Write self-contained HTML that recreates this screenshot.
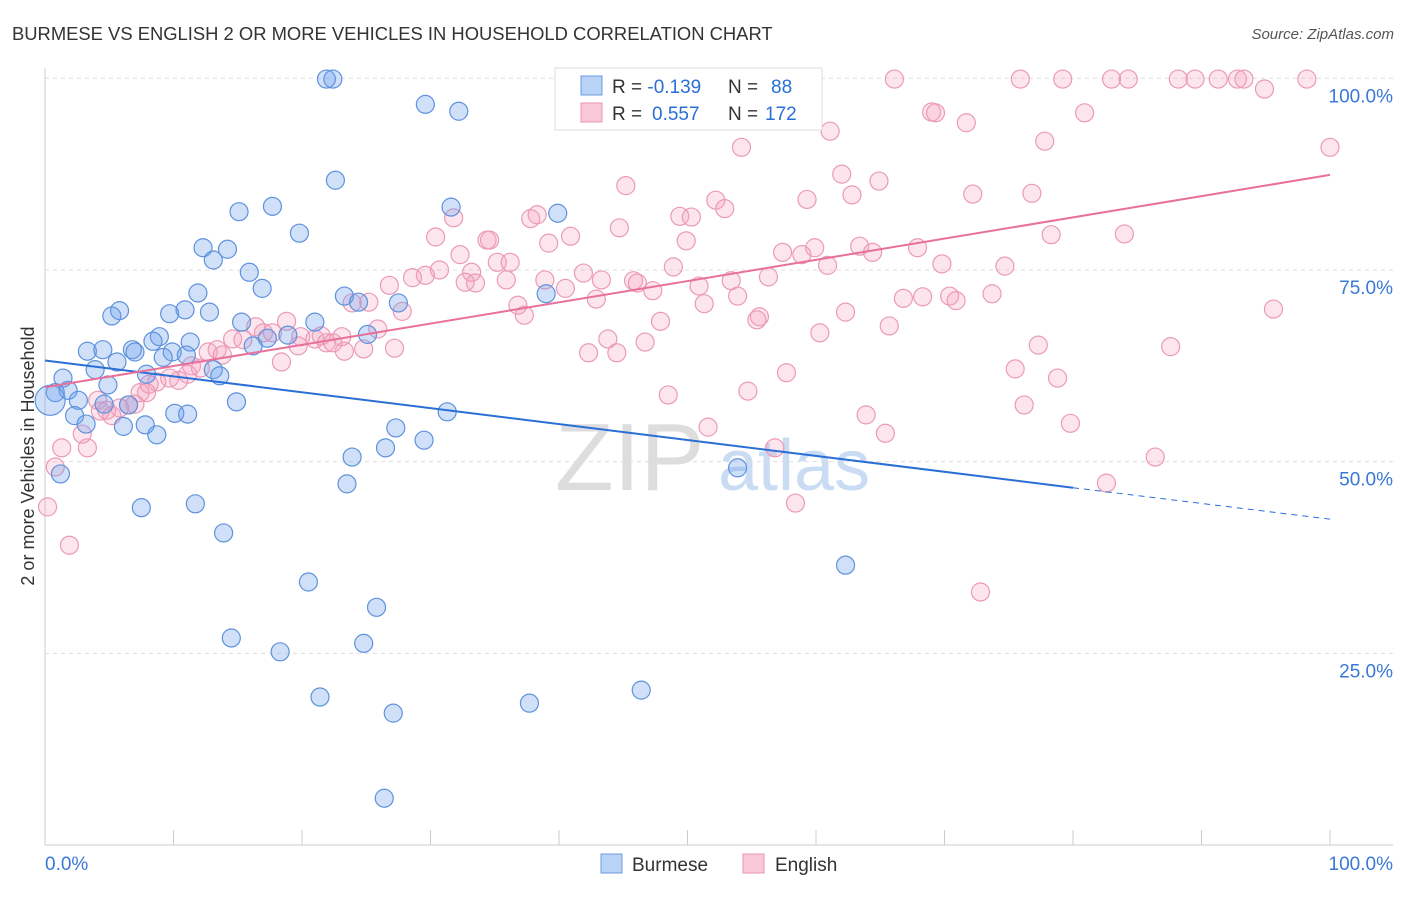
<!DOCTYPE html>
<html><head><meta charset="utf-8"><style>
body{margin:0;background:#fff;font-family:"Liberation Sans",sans-serif}
svg text{font-family:"Liberation Sans",sans-serif}
</style></head><body>
<svg width="1406" height="892" viewBox="0 0 1406 892">
<text x="12" y="40" font-size="18.4" fill="#333">BURMESE VS ENGLISH 2 OR MORE VEHICLES IN HOUSEHOLD CORRELATION CHART</text>
<text x="1394" y="39" font-size="15" fill="#555" text-anchor="end" font-style="italic">Source: ZipAtlas.com</text>
<text x="34" y="456" font-size="18" fill="#333" text-anchor="middle" transform="rotate(-90 34 456)">2 or more Vehicles in Household</text>
<g><text x="555" y="490" font-size="96" fill="#ddd" font-family="Liberation Serif">ZIP</text><text x="718" y="490" font-size="72" fill="#c9dcf3">atlas</text></g>
<g id="grid"></g><g id="axes"></g><g id="pts"></g><g id="trend"></g>
<g>
<rect x="555" y="68" width="267" height="62" fill="#fff" stroke="#ddd"/>
<rect x="581" y="76" width="21" height="19" fill="#b8d3f5" stroke="#6a9be0"/>
<rect x="581" y="103" width="21" height="19" fill="#f9c8d8" stroke="#e994b4"/>
<text x="612" y="93" font-size="19" fill="#333">R = <tspan fill="#2a6fd6">-0.139</tspan><tspan x="728">N = </tspan><tspan fill="#2a6fd6" x="771">88</tspan></text>
<text x="612" y="120" font-size="19" fill="#333">R = <tspan fill="#2a6fd6" x="652">0.557</tspan><tspan x="728">N = </tspan><tspan fill="#2a6fd6" x="765">172</tspan></text>
</g>
<g>
<rect x="601" y="854" width="21" height="19" fill="#b8d3f5" stroke="#6a9be0"/>
<text x="632" y="871" font-size="19" fill="#333">Burmese</text>
<rect x="743" y="854" width="21" height="19" fill="#f9c8d8" stroke="#e994b4"/>
<text x="775" y="871" font-size="19" fill="#333">English</text>
</g>
</svg>
<script>
const yTicks=[25,50,75,100];
const yTickLabels=["25.0%","50.0%","75.0%","100.0%"];
const xTickLabels=["0.0%","100.0%"];
const blueX=[21.9,22.4,29.6,32.2,22.6,15.1,17.7,31.6,39.9,19.8,12.3,14.2,13.1,15.9,16.9,11.9,23.3,39.0,24.4,27.5,10.9,5.8,5.2,12.8,9.7,15.3,21.0,25.1,17.3,18.9,8.9,8.4,11.3,16.2,3.3,4.5,6.8,7.0,9.9,11.0,9.2,5.6,3.9,13.1,7.9,13.6,1.4,4.9,1.8,0.8,2.6,4.6,6.5,14.9,2.3,10.1,11.1,31.3,3.2,6.1,7.8,27.3,8.7,29.5,26.5,23.9,53.9,1.2,23.5,11.7,7.5,13.9,62.3,20.5,25.8,14.5,24.8,18.3,46.4,21.4,37.7,27.1,26.4,0.4];
const blueY=[99.9,99.9,96.6,95.7,86.7,82.6,83.3,83.2,82.4,79.8,77.9,77.7,76.3,74.7,72.6,72.0,71.6,71.9,70.8,70.7,69.8,69.7,69.0,69.5,69.3,68.2,68.2,66.6,66.1,66.5,66.3,65.7,65.6,65.1,64.4,64.6,64.6,64.3,64.3,63.9,63.6,63.0,62.0,62.0,61.4,61.2,60.9,60.0,59.3,59.0,58.0,57.5,57.4,57.8,56.0,56.3,56.2,56.5,54.9,54.6,54.8,54.4,53.5,52.8,51.8,50.6,49.2,48.4,47.1,44.5,44.0,40.7,36.5,34.3,31.0,27.0,26.3,25.2,20.2,19.3,18.5,17.2,6.1,58.0];
const pinkX=[66.1,75.9,79.2,83.0,84.3,88.2,89.5,91.3,92.8,93.3,98.2,94.9,69.0,69.3,80.9,71.7,61.1,77.8,54.2,100,45.2,62.0,64.9,62.8,72.2,76.8,52.2,59.3,52.9,31.8,37.8,38.3,49.4,50.3,44.7,30.4,40.9,34.4,34.6,39.2,49.9,78.3,84.0,32.3,57.4,59.9,58.9,63.4,64.4,67.9,35.2,36.2,60.9,69.8,74.7,48.9,30.7,29.6,28.6,33.2,41.9,26.8,33.5,32.7,35.9,38.9,43.3,45.8,46.1,53.4,56.3,40.5,47.3,50.9,73.7,53.9,66.8,68.3,70.4,70.9,42.9,23.9,25.2,36.8,51.3,95.6,27.8,37.3,55.6,55.4,62.3,18.8,16.4,47.9,65.7,14.6,15.4,17.0,17.7,19.9,21.0,21.5,23.1,25.9,21.9,22.4,19.7,60.3,43.8,46.7,77.3,87.6,23.3,24.8,27.2,12.7,13.4,13.8,42.3,44.5,18.4,11.4,12.1,11.1,9.7,10.4,8.7,8.1,75.5,78.8,57.7,7.9,7.4,4.1,7.0,6.5,5.8,4.8,5.2,4.3,48.5,54.7,76.2,63.9,79.8,51.6,65.4,2.9,3.3,1.3,56.8,86.4,0.8,82.6,58.4,0.2,1.9,72.8];
const pinkY=[99.9,99.9,99.9,99.9,99.9,99.9,99.9,99.9,99.9,99.9,99.9,98.6,95.6,95.5,95.5,94.2,93.1,91.8,91.0,91.0,86.0,87.5,86.6,84.8,84.9,85.0,84.1,84.2,83.0,81.8,81.7,82.2,82.0,81.9,80.5,79.3,79.4,78.9,78.9,78.5,78.8,79.6,79.7,77.0,77.3,77.9,77.0,78.1,77.3,77.9,76.0,76.0,75.6,75.8,75.5,75.4,75.0,74.3,74.0,74.7,74.6,73.0,73.3,73.4,73.7,73.7,73.7,73.6,73.3,73.6,74.1,72.6,72.3,72.9,71.9,71.6,71.3,71.5,71.6,71.0,71.2,70.7,70.8,70.4,70.6,69.9,69.6,69.1,68.9,68.5,69.5,68.3,67.6,68.3,67.7,66.0,65.9,66.8,66.8,66.3,66.0,66.4,66.3,67.3,65.5,65.5,65.1,66.8,66.0,65.6,65.2,65.0,64.4,64.7,64.8,64.3,64.6,63.9,64.2,64.2,63.0,62.5,62.2,61.4,60.9,60.6,60.4,60.1,62.1,60.9,61.6,59.0,59.0,58.0,57.5,57.4,57.0,56.7,56.0,56.6,58.7,59.2,57.4,56.1,55.0,54.5,53.7,53.6,51.8,51.8,51.8,50.6,49.3,47.2,44.6,44.1,39.1,33.0];
const blueTrend=[63.2,46.6,42.5]; // values at x=0, 80, 100
const pinkTrend=[59.7,87.4];      // values at x=0, 100
const X=v=>45+v*12.85, Y=v=>845-v*7.667;
const NS="http://www.w3.org/2000/svg";
function mk(tag,attrs,parent){const e=document.createElementNS(NS,tag);for(const k in attrs)e.setAttribute(k,attrs[k]);parent.appendChild(e);return e;}
const grid=document.getElementById('grid'),axes=document.getElementById('axes'),pts=document.getElementById('pts'),tr=document.getElementById('trend');
yTicks.forEach((t,i)=>{
 const l=mk('line',{x1:45,x2:1393,y1:Y(t),y2:Y(t),stroke:'#ddd','stroke-dasharray':'4,4'},grid);
 
 
 const tx=mk('text',{x:1393,y:Y(t)+24,'font-size':19,fill:'#3a78d8','text-anchor':'end'},grid);
 tx.textContent=yTickLabels[i];
 
 
});
const ax=mk('line',{x1:45,x2:1393,y1:845,y2:845,stroke:'#ccc'},axes);


const ay=mk('line',{x1:45,x2:45,y1:68,y2:845,stroke:'#ccc'},axes);


for(let i=0;i<=10;i++){
 const t=mk('line',{x1:X(i*10),x2:X(i*10),y1:830,y2:845,stroke:'#ccc'},axes);
 
 
}
const xl0=mk('text',{x:45,y:870,'font-size':19,fill:'#3a78d8'},axes);xl0.textContent=xTickLabels[0];


const xl1=mk('text',{x:1393,y:870,'font-size':19,fill:'#3a78d8','text-anchor':'end'},axes);xl1.textContent=xTickLabels[1];


pinkX.forEach((x,i)=>{
 const c=mk('circle',{cx:X(x),cy:Y(pinkY[i]),r:9,fill:'rgba(243,160,190,0.28)',stroke:'#eb9ab8','stroke-width':1.2},pts);
 
 
});
blueX.forEach((x,i)=>{
 const c=mk('circle',{cx:X(x),cy:Y(blueY[i]),r:i==blueX.length-1?15:9,fill:'rgba(110,160,235,0.32)',stroke:'#5e92dc','stroke-width':1.2},pts);
 
 
});
const b1=mk('line',{x1:X(0),y1:Y(blueTrend[0]),x2:X(80),y2:Y(blueTrend[1]),stroke:'#2a6fd6','stroke-width':2},tr);


const b2=mk('line',{x1:X(80),y1:Y(blueTrend[1]),x2:X(100),y2:Y(blueTrend[2]),stroke:'#2a6fd6','stroke-width':1,'stroke-dasharray':'6,5'},tr);


const p1=mk('line',{x1:X(0),y1:Y(pinkTrend[0]),x2:X(100),y2:Y(pinkTrend[1]),stroke:'#e8709a','stroke-width':2},tr);


</script>
</body></html>
